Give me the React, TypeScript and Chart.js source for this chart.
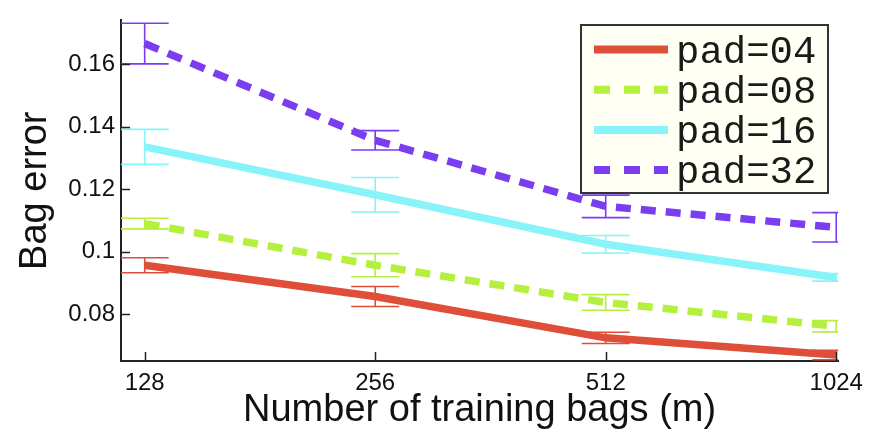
import React, { useEffect, useRef } from 'react';
import { Chart, registerables } from 'chart.js';
Chart.register(...registerables);

const bags = [128, 256, 512, 1024];
const pad04 = [0.0957, 0.0857, 0.0725, 0.0670];
const pad04Err = [0.0024, 0.0032, 0.0018, 0.0015];
const pad08 = [0.1090, 0.0957, 0.0838, 0.0762];
const pad08Err = [0.0017, 0.0037, 0.0025, 0.0018];
const pad16 = [0.1335, 0.1182, 0.1024, 0.0918];
const pad16Err = [0.0056, 0.0055, 0.0028, 0.0012];
const pad32 = [0.1665, 0.1356, 0.1145, 0.1078];
const pad32Err = [0.0065, 0.0031, 0.0036, 0.0047];
const yTicks = [0.08, 0.1, 0.12, 0.14, 0.16];
const yTickLabels = ['0.08', '0.1', '0.12', '0.14', '0.16'];
const seriesNames = ['pad=04', 'pad=08', 'pad=16', 'pad=32'];

const means = [pad04, pad08, pad16, pad32];
const errs = [pad04Err, pad08Err, pad16Err, pad32Err];
const colors = ['#DE4E38', '#B5F03E', '#88F3F8', '#7A3DF0'];
const dashed = [false, true, false, true];
const DASH = [15, 10];
const SANS = '"Liberation Sans", Arial, sans-serif';

const customPlugin = {
  id: 'custom',
  beforeDatasetsDraw(chart: any) {
    const { ctx, chartArea, scales } = chart;
    const x = scales.x, y = scales.y;
    ctx.save();
    ctx.beginPath();
    ctx.rect(chartArea.left, chartArea.top, chartArea.right - chartArea.left, chartArea.bottom - chartArea.top);
    ctx.clip();
    ctx.lineWidth = 1.6;
    means.forEach((m, i) => {
      ctx.strokeStyle = colors[i];
      m.forEach((v, j) => {
        const px = x.getPixelForValue(bags[j]);
        const yt = y.getPixelForValue(v + errs[i][j]);
        const yb = y.getPixelForValue(v - errs[i][j]);
        ctx.beginPath();
        ctx.moveTo(px, yt); ctx.lineTo(px, yb);
        ctx.moveTo(px - 24, yt); ctx.lineTo(px + 24, yt);
        ctx.moveTo(px - 24, yb); ctx.lineTo(px + 24, yb);
        ctx.stroke();
      });
    });
    ctx.restore();
  },
  afterDraw(chart: any) {
    const { ctx, chartArea, scales } = chart;
    const x = scales.x, y = scales.y;
    ctx.save();
    // inner tick marks
    ctx.strokeStyle = '#222';
    ctx.lineWidth = 1.5;
    ctx.beginPath();
    yTicks.forEach((t) => {
      const py = Math.round(y.getPixelForValue(t)) + 0.5;
      ctx.moveTo(chartArea.left, py);
      ctx.lineTo(chartArea.left + 9, py);
    });
    bags.forEach((b) => {
      const px = Math.round(x.getPixelForValue(b)) + 0.5;
      ctx.moveTo(px, chartArea.bottom);
      ctx.lineTo(px, chartArea.bottom - 9);
    });
    ctx.stroke();

    // legend
    const lx = 581, ly = 25, lw = 247, lh = 168;
    ctx.fillStyle = '#FFFFF3';
    ctx.fillRect(lx, ly, lw, lh);
    ctx.strokeStyle = '#333';
    ctx.lineWidth = 2;
    ctx.strokeRect(lx, ly, lw, lh);
    seriesNames.forEach((name, i) => {
      const rowY = 49.5 + i * 40.2;
      ctx.strokeStyle = colors[i];
      ctx.lineWidth = 8;
      ctx.lineCap = 'butt';
      ctx.setLineDash(dashed[i] ? [16, 14] : []);
      ctx.beginPath();
      ctx.moveTo(594, rowY);
      ctx.lineTo(668, rowY);
      ctx.stroke();
      ctx.setLineDash([]);
      ctx.fillStyle = '#1a1a1a';
      ctx.font = '39px "Liberation Mono", "DejaVu Sans Mono", monospace';
      ctx.textBaseline = 'alphabetic';
      ctx.textAlign = 'left';
      ctx.fillText(name, 676, rowY + 13);
    });
    ctx.restore();
  },
};

export default function App() {
  const ref = useRef<HTMLCanvasElement>(null);
  useEffect(() => {
    if (!ref.current) return;
    const chart = new Chart(ref.current, {
      type: 'line',
      data: {
        datasets: means.map((m, i) => ({
          label: seriesNames[i],
          data: m.map((v, j) => ({ x: bags[j], y: v })),
          borderColor: colors[i],
          backgroundColor: colors[i],
          borderWidth: 7.5,
          borderDash: dashed[i] ? DASH : [],
          borderCapStyle: 'butt',
          pointRadius: 0,
          tension: 0,
          fill: false,
        })),
      },
      options: {
        animation: false,
        responsive: false,
        maintainAspectRatio: false,
        layout: { padding: { left: 0, right: 30, top: 12, bottom: 0 } },
        plugins: {
          legend: { display: false },
          tooltip: { enabled: false },
        },
        scales: {
          x: {
            type: 'logarithmic',
            min: 119.2,
            max: 1030,
            afterBuildTicks: (s: any) => { s.ticks = bags.map((v) => ({ value: v })); },
            afterFit: (s: any) => { s.height = 77; },
            ticks: {
              autoSkip: false,
              maxRotation: 0,
              padding: 8,
              color: '#111',
              font: { family: SANS, size: 24 },
              callback: (v: any) => String(v),
            },
            grid: { display: false, drawTicks: false },
            border: { display: true, color: '#222', width: 2 },
            title: {
              display: true,
              text: 'Number of training bags (m)',
              color: '#111',
              font: { family: SANS, size: 38 },
              padding: { top: 0, bottom: 5 },
            },
          },
          y: {
            type: 'linear',
            min: 0.0651,
            max: 0.1739,
            afterBuildTicks: (s: any) => { s.ticks = yTicks.map((v) => ({ value: v })); },
            afterFit: (s: any) => { s.width = 121; },
            ticks: {
              autoSkip: false,
              padding: 6,
              color: '#111',
              font: { family: SANS, size: 24 },
              callback: (v: any) => {
                const idx = yTicks.findIndex((t) => Math.abs(t - v) < 1e-9);
                return idx >= 0 ? yTickLabels[idx] : '';
              },
            },
            grid: { display: false, drawTicks: false },
            border: { display: true, color: '#222', width: 2 },
            title: {
              display: true,
              text: 'Bag error',
              color: '#111',
              font: { family: SANS, size: 38 },
              padding: { top: 13, bottom: 0 },
            },
          },
        },
      },
      plugins: [customPlugin],
    } as any);
    return () => chart.destroy();
  }, []);
  return (
    <div style={{ position: 'fixed', left: 0, top: 0, width: 871, height: 438, background: '#fff' }}>
      <canvas ref={ref} width={871} height={438} style={{ width: 871, height: 438, display: 'block' }} />
    </div>
  );
}
